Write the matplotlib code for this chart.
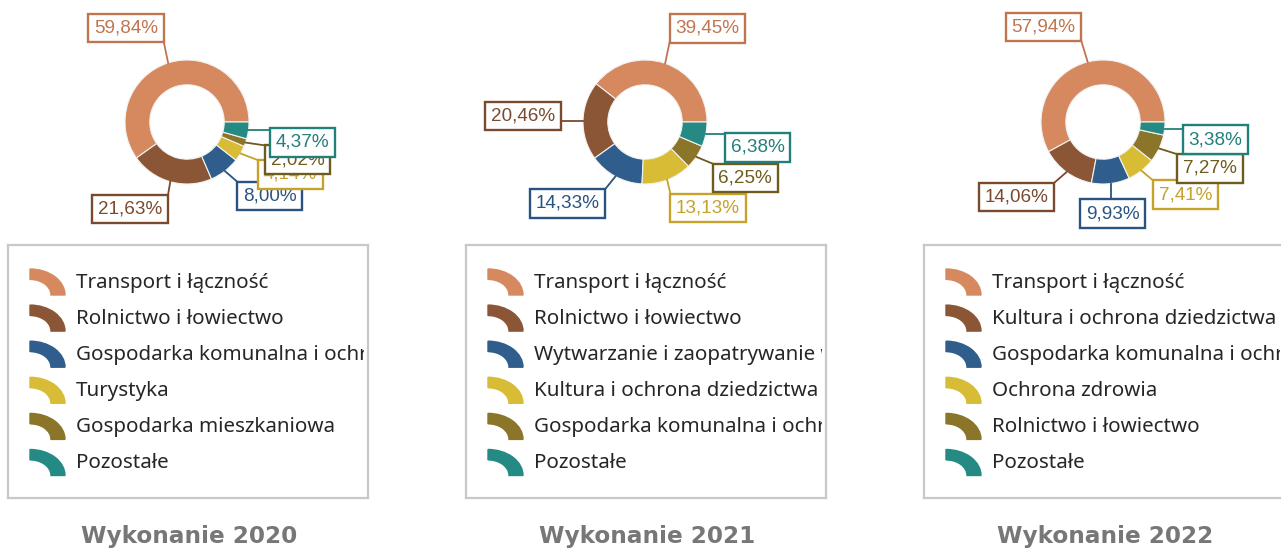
import numpy as np
import matplotlib
matplotlib.use("Agg")
import matplotlib.pyplot as plt
from matplotlib.patches import Wedge, Rectangle
from matplotlib.lines import Line2D
from matplotlib.transforms import Affine2D, IdentityTransform

# --- data -------------------------------------------------------------
years = ["2020", "2021", "2022"]

cats_2020 = ["Transport i łączność", "Rolnictwo i łowiectwo",
             "Gospodarka komunalna i ochrona środowiska", "Turystyka",
             "Gospodarka mieszkaniowa", "Pozostałe"]
vals_2020 = [59.84, 21.63, 8.00, 4.14, 2.02, 4.37]

cats_2021 = ["Transport i łączność", "Rolnictwo i łowiectwo",
             "Wytwarzanie i zaopatrywanie w energię elektryczną",
             "Kultura i ochrona dziedzictwa narodowego",
             "Gospodarka komunalna i ochrona środowiska", "Pozostałe"]
vals_2021 = [39.45, 20.46, 14.33, 13.13, 6.25, 6.38]

cats_2022 = ["Transport i łączność", "Kultura i ochrona dziedzictwa narodowego",
             "Gospodarka komunalna i ochrona środowiska", "Ochrona zdrowia",
             "Rolnictwo i łowiectwo", "Pozostałe"]
vals_2022 = [57.94, 14.06, 9.93, 7.41, 7.27, 3.38]

# --- styling ----------------------------------------------------------
fill_colors = ["#D6895F", "#8B5636", "#2F5E8C", "#D9BC35", "#8A7529", "#268A84"]
edge_colors = ["#BF7550", "#7A4A2F", "#2A5380", "#C4A22B", "#6E5C1E", "#22807A"]

# label box offsets from the wedge edge, in pixels (dx, dy up)
label_offsets = [
    [(-42, 35), (-40, -27), (45, -25), (50, -21), (52, -17), (54, -12)],
    [(42, 35), (-60, 5), (-48, -27), (41, -28), (49, -21), (52, -13)],
    [(-44, 35), (-50, -25), (2, -30), (44, -24), (51, -20), (51, -11)],
]

W, H = 1281, 551
R_PX = 62           # outer donut radius in pixels
centers_x = [187, 645, 1103]
center_y = 122

fig = plt.figure(figsize=(W / 100, H / 100), dpi=100)
fig.patch.set_facecolor("white")


def fmt(v):
    return f"{v:.2f}".replace(".", ",") + "%"


panels = [(cats_2020, vals_2020), (cats_2021, vals_2021), (cats_2022, vals_2022)]
leaders = []   # (axes, anchor in data coords, annotation, colour)

for p, (cats, vals) in enumerate(panels):
    cx = centers_x[p]

    # donut
    ax = fig.add_axes([(cx - 180) / W, (H - 240) / H, 360 / W, 240 / H])
    wedges, _ = ax.pie(vals, colors=fill_colors, startangle=0, counterclock=True,
                       radius=1.0,
                       wedgeprops=dict(width=0.4, edgecolor="#f2f2f2", linewidth=0.8))
    ax.set_xlim(-180 / R_PX, 180 / R_PX)
    ax.set_ylim(-(240 - center_y) / R_PX, center_y / R_PX)
    ax.set_aspect("auto")
    ax.axis("off")

    for i, w in enumerate(wedges):
        ang = np.deg2rad((w.theta1 + w.theta2) / 2)
        xy = (np.cos(ang), np.sin(ang))
        ann = ax.annotate(fmt(vals[i]), xy=xy,
                          xytext=label_offsets[p][i], textcoords="offset pixels",
                          ha="center", va="center", fontsize=13.6,
                          family="Liberation Sans", color=edge_colors[i],
                          bbox=dict(boxstyle="square,pad=0.3", fc="white",
                                    ec=edge_colors[i], lw=1.7),
                          annotation_clip=False, zorder=5 + i)
        leaders.append((ax, xy, ann, edge_colors[i]))

    # legend panel
    lx0 = cx - 179
    lax = fig.add_axes([lx0 / W, (H - 498) / H, 360 / W, 253 / H])
    lax.set_xlim(0, 360)
    lax.set_ylim(253, 0)
    lax.set_xticks([])
    lax.set_yticks([])
    for s in lax.spines.values():
        s.set_color("#c8c8c8")
        s.set_linewidth(1.6)
    # long names are cut just inside the frame
    clip_rect = Rectangle((0, 0), 356, 253, transform=lax.transData,
                          fill=False, visible=False)
    lax.add_patch(clip_rect)
    for i, name in enumerate(cats):
        ty = 37 + i * 36.1
        icon = Wedge((0, 0), 1.0, 0, 90, width=0.4, color=fill_colors[i],
                     transform=Affine2D().scale(35, -26).translate(22, ty + 13)
                     + lax.transData)
        lax.add_patch(icon)
        t = lax.text(68, ty + 1, name, ha="left", va="center", fontsize=14.8,
                     family="Noto Sans", color="#262626", clip_on=True)
        t.set_clip_path(clip_rect)

    fig.text((cx + 2) / W, 1 - 536 / H, f"Wykonanie {years[p]}", ha="center",
             va="center", fontsize=16.7, fontweight="bold", family="DejaVu Sans",
             color="#777777")

# leader lines: from the wedge edge to the nearest point of its label box
fig.canvas.draw()
for ax, xy, ann, col in leaders:
    ax_px, ay_px = ax.transData.transform(xy)
    bb = ann.get_bbox_patch().get_window_extent()
    px = min(max(ax_px, bb.x0), bb.x1)
    py = min(max(ay_px, bb.y0), bb.y1)
    ax.add_line(Line2D([ax_px, px], [ay_px, py], transform=IdentityTransform(),
                       color=col, lw=1.3, clip_on=False,
                       zorder=ann.get_zorder() - 0.5))

fig.savefig("out.png", dpi=100, facecolor="white")
